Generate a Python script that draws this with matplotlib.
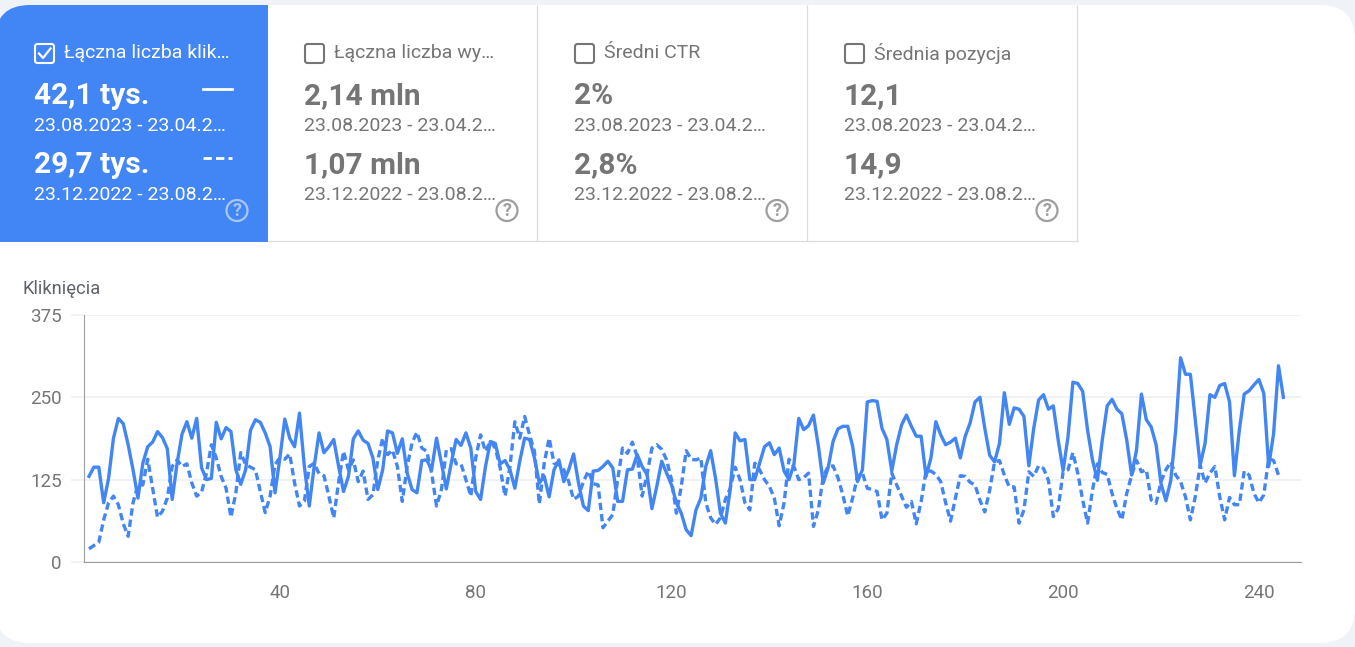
import matplotlib
matplotlib.use("Agg")
import matplotlib.pyplot as plt
from matplotlib.patches import Rectangle, FancyBboxPatch, Circle, PathPatch
from matplotlib.path import Path

plt.rcParams["font.family"] = ["Roboto", "DejaVu Sans"]

W, H = 1355, 647
BLUE = "#4285f4"
GREY = "#757575"

# daily clicks, current period
clicks = [130, 144, 144, 90, 127, 188, 218, 210, 178, 140, 97, 150, 175, 182, 198, 189, 172, 95, 150, 194,
          213, 188, 218, 143, 125, 127, 212, 187, 204, 198, 140, 118, 140, 200, 216, 212, 196, 175, 105, 158,
          217, 188, 175, 226, 145, 85, 145, 196, 166, 175, 186, 145, 107, 130, 187, 199, 185, 180, 158, 110,
          140, 199, 196, 165, 187, 135, 110, 105, 154, 155, 140, 188, 150, 111, 150, 186, 177, 196, 173, 107,
          95, 145, 183, 180, 149, 154, 140, 112, 153, 188, 186, 158, 120, 130, 99, 140, 155, 122, 140, 164,
          120, 85, 78, 138, 139, 145, 153, 143, 92, 92, 140, 141, 163, 145, 133, 81, 115, 153, 135, 117,
          90, 74, 49, 40, 79, 97, 145, 169, 127, 74, 59, 110, 196, 184, 186, 125, 125, 150, 175, 181,
          163, 173, 138, 125, 148, 218, 201, 207, 223, 176, 120, 143, 183, 202, 206, 206, 176, 122, 140, 243,
          245, 244, 203, 186, 138, 178, 208, 223, 206, 191, 191, 130, 158, 213, 193, 178, 182, 188, 158, 191,
          211, 243, 250, 203, 162, 152, 180, 257, 209, 234, 232, 221, 146, 203, 246, 254, 232, 237, 185, 139,
          190, 273, 271, 259, 200, 155, 124, 185, 237, 247, 232, 225, 185, 132, 170, 255, 216, 205, 178, 119,
          93, 124, 200, 310, 285, 285, 216, 147, 180, 254, 250, 268, 271, 243, 131, 200, 255, 260, 269, 277,
          256, 145, 195, 298, 250]

# daily clicks, previous period (dashed)
clicks_prev = [20, 25, 30, 64, 90, 100, 87, 58, 39, 90, 117, 117, 156, 112, 68, 77, 97, 145, 155, 145,
               149, 120, 100, 106, 135, 178, 158, 130, 112, 68, 105, 166, 148, 144, 140, 107, 75, 100, 148, 158,
               156, 164, 120, 85, 92, 145, 150, 134, 131, 100, 67, 122, 168, 140, 155, 122, 138, 95, 102, 155,
               188, 163, 170, 145, 92, 145, 181, 197, 173, 168, 135, 85, 110, 170, 172, 149, 149, 125, 100, 158,
               193, 168, 183, 173, 143, 100, 145, 213, 188, 221, 193, 168, 88, 150, 188, 150, 148, 140, 122, 95,
               100, 122, 138, 119, 117, 52, 62, 72, 125, 173, 165, 182, 160, 100, 133, 173, 178, 171, 155, 125,
               74, 115, 169, 156, 155, 158, 90, 67, 57, 67, 95, 112, 144, 125, 90, 79, 150, 140, 125, 115,
               97, 55, 90, 156, 145, 125, 128, 135, 54, 79, 130, 145, 146, 128, 102, 70, 97, 130, 135, 112,
               110, 107, 64, 74, 135, 117, 100, 83, 92, 58, 92, 138, 138, 133, 122, 90, 62, 97, 131, 130,
               121, 117, 94, 76, 109, 152, 154, 132, 114, 114, 59, 79, 137, 130, 146, 142, 124, 69, 81, 137,
               140, 166, 135, 94, 59, 109, 149, 136, 133, 104, 81, 64, 104, 132, 154, 137, 140, 94, 89, 122,
               140, 152, 132, 122, 99, 64, 99, 147, 120, 135, 145, 99, 64, 98, 87, 87, 138, 132, 104, 90,
               102, 157, 154, 132]

xticks = [40, 80, 120, 160, 200, 240]
yticks = [0, 125, 250, 375]

card_titles = ["Łączna liczba klik…", "Łączna liczba wy…", "Średni CTR", "Średnia pozycja"]
current_vals = ["42,1 tys.", "2,14 mln", "2%", "12,1"]
previous_vals = ["29,7 tys.", "1,07 mln", "2,8%", "14,9"]
current_range = "23.08.2023 - 23.04.2…"
previous_range = "23.12.2022 - 23.08.2…"
card_left = [0, 270, 540, 810]


def rounded_page():
    # white page with big round corners, in pixel coords
    r = 35
    l, t, rr, b = -5, 5, W, 643
    verts = [(l, t + r), (l, t), (l + r, t), (rr - r, t), (rr, t), (rr, t + r), (rr, b - r), (rr, b), (rr - r, b),
             (l + r, b), (l, b), (l, b - r), (l, t + r)]
    codes = [Path.MOVETO, Path.CURVE3, Path.CURVE3, Path.LINETO, Path.CURVE3, Path.CURVE3, Path.LINETO,
             Path.CURVE3, Path.CURVE3, Path.LINETO, Path.CURVE3, Path.CURVE3, Path.CLOSEPOLY]
    return Path(verts, codes)


fig = plt.figure(figsize=(W / 100, H / 100), dpi=100, facecolor="#eff2f7")

bg = fig.add_axes([0, 0, 1, 1])
bg.set_xlim(0, W)
bg.set_ylim(H, 0)
bg.axis("off")

page = PathPatch(rounded_page(), facecolor="white", edgecolor="none")
bg.add_patch(page)

# blue tile, clipped by the page corners
tile = Rectangle((0, 5), 268, 237, facecolor=BLUE, edgecolor="none")
bg.add_patch(tile)
tile.set_clip_path(page)

for x in [537, 807, 1077]:
    bg.plot([x, x], [5, 241], color="#dadce0", lw=0.9, solid_capstyle="butt")
bg.plot([268, 1077.5], [241, 241], color="#dadce0", lw=0.9, solid_capstyle="butt")

for i, left in enumerate(card_left):
    on = i == 0
    col = "white" if on else GREY
    box = FancyBboxPatch((left + 35, 44), 19, 19, boxstyle="round,pad=0,rounding_size=2.5",
                         facecolor="none", edgecolor=col, lw=1.5)
    bg.add_patch(box)
    if on:
        bg.plot([left + 39, left + 43, left + 50.5], [53.5, 58, 48.5], color="white", lw=1.6)
    bg.text(left + 64, 53.5, card_titles[i], color=col, fontsize=14, va="center", ha="left")
    bg.text(left + 34, 96, current_vals[i], color=col, fontsize=21.5, fontweight="bold", va="center", ha="left")
    bg.text(left + 34, 126, current_range, color=col, fontsize=14, va="center", ha="left")
    bg.text(left + 34, 165, previous_vals[i], color=col, fontsize=21.5, fontweight="bold", va="center", ha="left")
    bg.text(left + 34, 195, previous_range, color=col, fontsize=14, va="center", ha="left")

    help_col = "#a9c6fa" if on else "#9e9e9e"
    bg.add_patch(Circle((left + 237, 210.5), 10.5, facecolor="none", edgecolor=help_col, lw=1.6))
    bg.text(left + 237, 211, "?", color=help_col, fontsize=13, fontweight="bold", va="center", ha="center")

# little legend keys on the blue tile
bg.plot([203, 232], [88.5, 88.5], color="white", lw=2)
bg.plot([203, 232], [157.5, 157.5], color="white", lw=2, linestyle=(0, (3.0, 1.5)))

bg.text(22, 289, "Kliknięcia", color="#5f6368", fontsize=13.2, va="center", ha="left")

# chart axes placed on the reference pixels
ax = fig.add_axes([84 / W, 1 - 562 / H, (1301 - 84) / W, (562 - 315) / H])
ax.patch.set_alpha(0)
ax.plot(range(1, len(clicks_prev) + 1), clicks_prev, color=BLUE, lw=2.4, linestyle=(0, (2.2, 1.2)))
ax.plot(range(1, len(clicks) + 1), clicks, color=BLUE, lw=2.4)
ax.set_xlim(-0.02, 248.6)
ax.set_ylim(0, 375)

ax.set_yticks(yticks)
ax.set_xticks(xticks)
ax.grid(axis="y", color="#eceff1", lw=1.1)
ax.set_axisbelow(True)
ax.tick_params(axis="x", length=0, pad=16, labelsize=13.5, labelcolor=GREY)
ax.tick_params(axis="y", length=9.4, width=1.1, color="#eceff1", pad=6.5, labelsize=13.5, labelcolor=GREY)
ax.yaxis.get_major_ticks()[0].tick1line.set_color("#9e9e9e")

for s in ["top", "right"]:
    ax.spines[s].set_visible(False)
ax.spines["left"].set_color("#9e9e9e")
ax.spines["bottom"].set_color("#9e9e9e")

fig.savefig("out.png", dpi=100)
